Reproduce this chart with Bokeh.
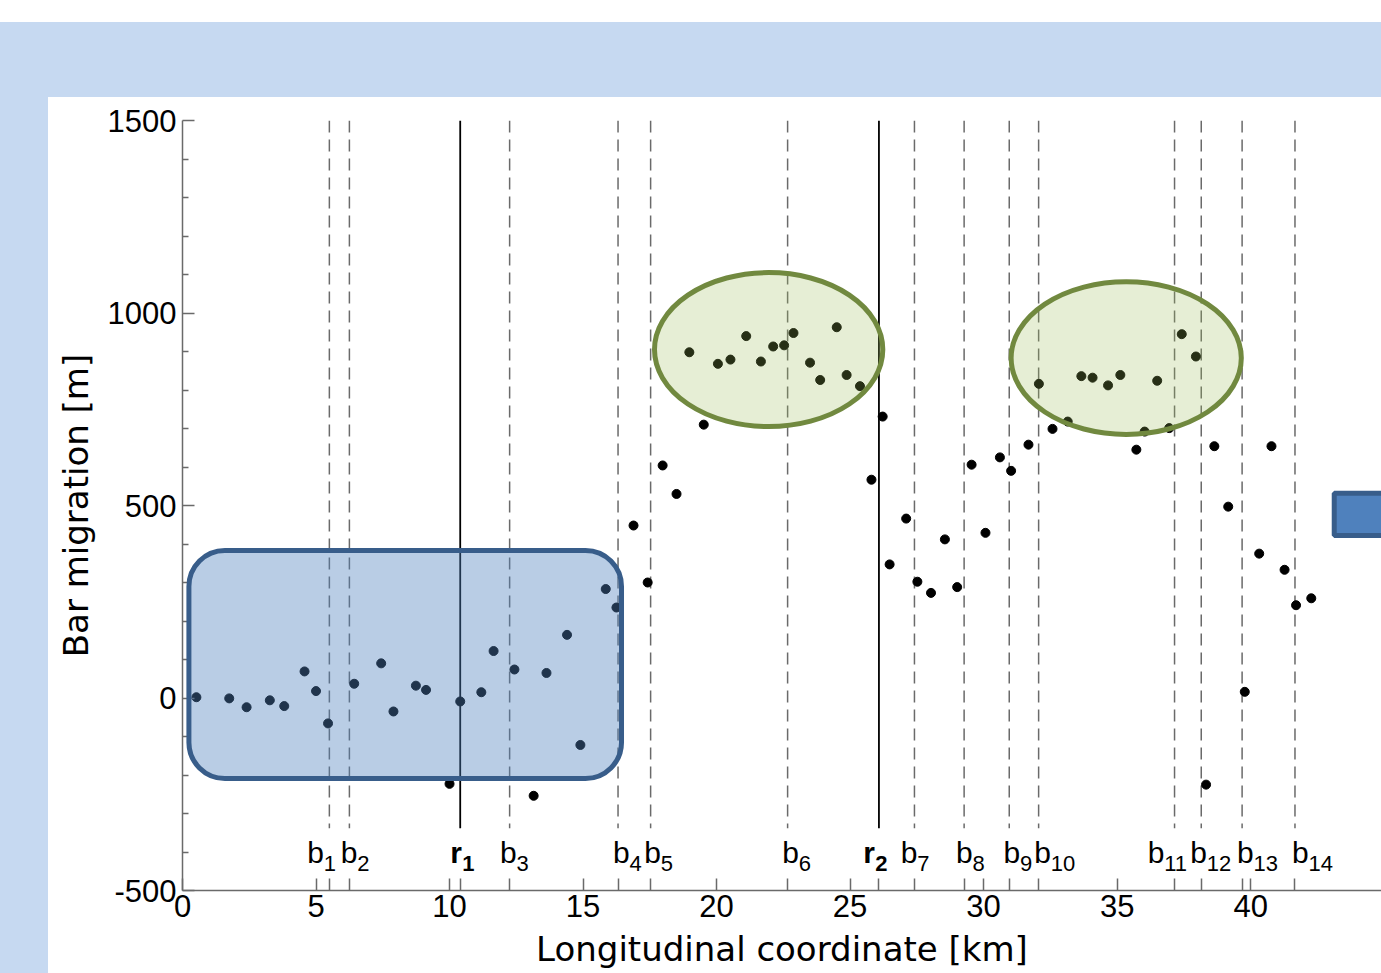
from bokeh.plotting import figure
from bokeh.models import (FixedTicker, CustomJSTickFormatter, BoxAnnotation, Range1d)
from bokeh.core.properties import value
from bokeh.embed import file_html
from bokeh.resources import INLINE

# ---------------- data ----------------
km = [0.52, 1.75, 2.40, 3.27, 3.81, 4.57, 5.00, 5.45, 6.43, 7.44, 7.90, 8.74, 9.12,
      10.00, 10.40, 11.19, 11.65, 12.43, 13.15, 13.63, 14.40, 14.90, 15.85, 16.25,
      16.89, 17.42, 17.98, 18.50, 18.98, 19.52, 20.05, 20.52, 21.11, 21.66, 22.12,
      22.53, 22.88, 23.50, 23.88, 24.50, 24.87, 25.37, 25.80, 26.22, 26.48, 27.10,
      27.52, 28.03, 28.55, 29.01, 29.55, 30.07, 30.61, 31.03, 31.68, 32.07, 32.58,
      33.15, 33.66, 34.08, 34.66, 35.12, 35.72, 36.03, 36.50, 36.95, 37.42, 37.95,
      38.33, 38.64, 39.16, 39.78, 40.32, 40.78, 41.27, 41.70, 42.27]
migration = [2, -1, -24, -6, -21, 69, 18, -66, 37, 90, -35, 32, 21,
             -223, -9, 15, 122, 74, -254, 65, 164, -122, 283, 235,
             448, 300, 604, 530, 898, 710, 868, 879, 940, 874, 913,
             916, 948, 871, 826, 963, 839, 810, 567, 731, 347, 466,
             302, 273, 412, 288, 606, 429, 625, 590, 658, 816, 699,
             718, 836, 832, 812, 839, 645, 692, 824, 701, 945, 887,
             -225, 654, 497, 16, 375, 654, 333, 241, 259]

bar_km = [5.50, 6.25, 12.25, 16.31, 17.53, 22.66, 27.41, 29.27, 30.96, 32.06,
          37.15, 38.15, 39.68, 41.66]
bar_names = ["1", "2", "3", "4", "5", "6", "7", "8", "9", "10", "11", "12", "13", "14"]
bar_label_km = [4.71, 5.96, 11.93, 16.16, 17.33, 22.50, 26.93, 29.00, 30.78, 31.93,
                36.18, 37.78, 39.53, 41.59]

reach_km = [10.40, 26.08]
reach_names = ["1", "2"]
reach_label_km = [10.06, 25.53]

x_tick_values = [0, 5, 10, 15, 20, 25, 30, 35, 40, 45]
y_tick_values = [-500, 0, 500, 1000, 1500]
y_minor_values = [-400, -300, -200, -100, 100, 200, 300, 400, 600, 700, 800, 900,
                  1100, 1200, 1300, 1400]

# highlighted regions (data units)
box_left, box_right, box_bottom, box_top = 0.24, 16.44, -209, 383
ell_x = [21.95, 35.34]
ell_y = [905, 883]
ell_w = [8.55, 8.62]
ell_h = [400, 397]
side_left, side_right, side_bottom, side_top = 43.13, 46.0, 422, 532

line_top = 1500
line_bottom = -338
label_y = -402

# ---------------- figure ----------------
p = figure(width=1381, height=973, output_backend="svg", toolbar_location=None,
           x_range=Range1d(0, 44.9), y_range=Range1d(-500, 1500),
           min_border_left=182, min_border_right=0, min_border_top=120,
           min_border_bottom=83)
p.outline_line_color = None
p.grid.visible = False
p.background_fill_color = "white"
p.border_fill_color = None
p.styles = {"background": "linear-gradient(#ffffff, #ffffff) 0px 0px / 100% 22px no-repeat, "
                          "linear-gradient(#ffffff, #ffffff) 48px 97px / 100% 100% no-repeat, #C6D9F1"}

axis_col = "#6a6a6a"
# x axis
xa = p.xaxis[0]
xa.ticker = FixedTicker(ticks=x_tick_values + bar_km + reach_km, minor_ticks=[])
xa.formatter = CustomJSTickFormatter(
    code="return (Math.abs(tick - 5*Math.round(tick/5)) < 1e-6) ? String(Math.round(tick)) : '';")
xa.major_tick_in = 12
xa.major_tick_out = 0
xa.minor_tick_in = 0
xa.minor_tick_out = 0
xa.axis_line_color = axis_col
xa.axis_line_width = 1.5
xa.major_tick_line_color = axis_col
xa.major_tick_line_width = 1.5
xa.major_label_text_font = "Liberation Sans"
xa.major_label_text_font_size = "31px"
xa.major_label_text_color = "black"
xa.major_label_standoff = 4
xa.axis_label = "Longitudinal coordinate [km]"
xa.axis_label_text_font = "DejaVu Sans"
xa.axis_label_text_font_size = "34px"
xa.axis_label_text_font_style = "normal"
xa.axis_label_text_color = "black"
xa.axis_label_standoff = 9

# y axis
ya = p.yaxis[0]
ya.ticker = FixedTicker(ticks=y_tick_values, minor_ticks=y_minor_values)
ya.formatter = CustomJSTickFormatter(code="return String(Math.round(tick));")
ya.major_tick_in = 12
ya.major_tick_out = 0
ya.minor_tick_in = 6
ya.minor_tick_out = 0
ya.axis_line_color = axis_col
ya.axis_line_width = 1.5
ya.major_tick_line_color = axis_col
ya.major_tick_line_width = 1.5
ya.minor_tick_line_color = axis_col
ya.minor_tick_line_width = 1.5
ya.major_label_text_font = "Liberation Sans"
ya.major_label_text_font_size = "31px"
ya.major_label_text_color = "black"
ya.major_label_standoff = 6
ya.axis_label = "Bar migration [m]"
ya.axis_label_text_font = "DejaVu Sans"
ya.axis_label_text_font_size = "34px"
ya.axis_label_text_font_style = "normal"
ya.axis_label_text_color = "black"
ya.axis_label_standoff = 9

# vertical reference lines
p.segment(x0=bar_km, y0=[line_top] * len(bar_km), x1=bar_km, y1=[line_bottom] * len(bar_km),
          line_color="#6a6a6a", line_width=1.5, line_dash="12 7")
p.segment(x0=reach_km, y0=[line_top] * len(reach_km), x1=reach_km, y1=[line_bottom] * len(reach_km),
          line_color="black", line_width=1.8)

# labels
p.text(x=bar_label_km, y=[label_y] * len(bar_km), text=["b"] * len(bar_km),
       text_font=value("Liberation Sans"), text_font_size="30px", text_color="black",
       text_align="left", text_baseline="alphabetic", x_offset=-1)
p.text(x=bar_label_km, y=[label_y] * len(bar_km), text=bar_names,
       text_font=value("Liberation Sans"), text_font_size="22px", text_color="black",
       text_align="left", text_baseline="alphabetic", x_offset=15.5, y_offset=11)
p.text(x=reach_label_km, y=[label_y] * len(reach_km), text=["r"] * len(reach_km),
       text_font=value("Liberation Sans"), text_font_size="30px", text_font_style="bold",
       text_color="black", text_align="left", text_baseline="alphabetic", x_offset=-1)
p.text(x=reach_label_km, y=[label_y] * len(reach_km), text=reach_names,
       text_font=value("Liberation Sans"), text_font_size="22px", text_font_style="bold",
       text_color="black", text_align="left", text_baseline="alphabetic", x_offset=11, y_offset=11)

# data points
p.scatter(km, migration, size=9, color="black")

# highlight shapes
p.ellipse(x=ell_x, y=ell_y, width=ell_w, height=ell_h, fill_color="#9BBB59", fill_alpha=0.25,
          line_color="#71893F", line_width=5)
p.add_layout(BoxAnnotation(left=box_left, right=box_right, bottom=box_bottom, top=box_top,
                           fill_color="#4F81BD", fill_alpha=0.4, line_color="#385D8A",
                           line_alpha=1.0, line_width=5, border_radius=36))
p.add_layout(BoxAnnotation(left=side_left, right=side_right, bottom=side_bottom, top=side_top,
                           fill_color="#4F81BD", fill_alpha=1.0, line_color="#385D8A",
                           line_alpha=1.0, line_width=5))

open("out.html", "w").write(file_html(p, INLINE))
